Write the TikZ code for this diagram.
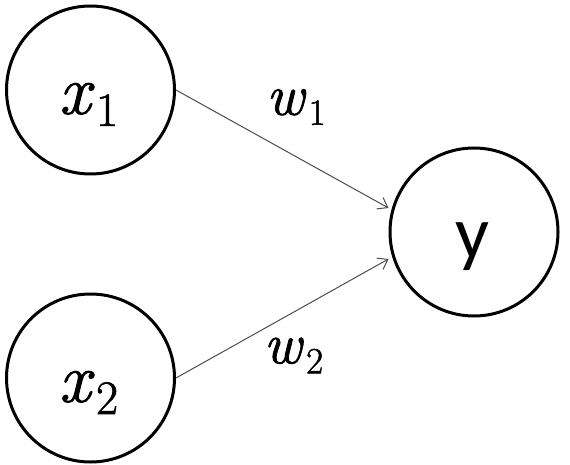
\documentclass[tikz,border=0pt]{standalone}
\usepackage{fontspec}
\newfontfamily\yfont{Carlito}
\newfontfamily\varfont[FakeBold=1.3]{Latin Modern Roman}
\usetikzlibrary{arrows.meta}
\newcommand{\varsub}[4]{{\varfont\itshape #1}\kern0.08em\raisebox{-#3}{\varfont\fontsize{#2}{#2}\selectfont\upshape #4}}
\tikzset{
  neuron/.style={circle, draw=black, line width=3pt, minimum size=168pt, inner sep=0pt},
  conn/.style={draw=black!70, line width=1pt, -{Straight Barb[length=9pt,width=13pt,line width=1pt]}},
  xlab/.style={inner sep=0pt, font=\fontsize{70}{84}\selectfont},
  wlab/.style={inner sep=0pt, font=\fontsize{58}{70}\selectfont},
  ylab/.style={inner sep=0pt, font=\yfont\fontsize{75}{90}\selectfont}
}
\begin{document}
\begin{tikzpicture}[x=1pt,y=-1pt]
\useasboundingbox (0,0) rectangle (570,465);
\node[neuron] (x1) at (90.5,90) {};
\node[neuron] (x2) at (90.5,378) {};
\node[neuron] (y) at (474,232) {};
\node[xlab] (x1t) at (88.5,104.5) {\varsub{x}{48}{12pt}{1}};
\node[xlab] (x2t) at (88.5,392.5) {\varsub{x}{48}{12pt}{2}};
\node[ylab] (yt) at (472,247) {y};
\draw[conn] (x1.east) -- ([yshift=24pt]y.west);
\draw[conn] (x2.east) -- ([yshift=-27pt]y.west);
\node[wlab] (w1) at (296,107) {\varsub{w}{37}{10pt}{1}};
\node[wlab] (w2) at (293.5,355.5) {\varsub{w}{37}{10pt}{2}};
\end{tikzpicture}
\end{document}
